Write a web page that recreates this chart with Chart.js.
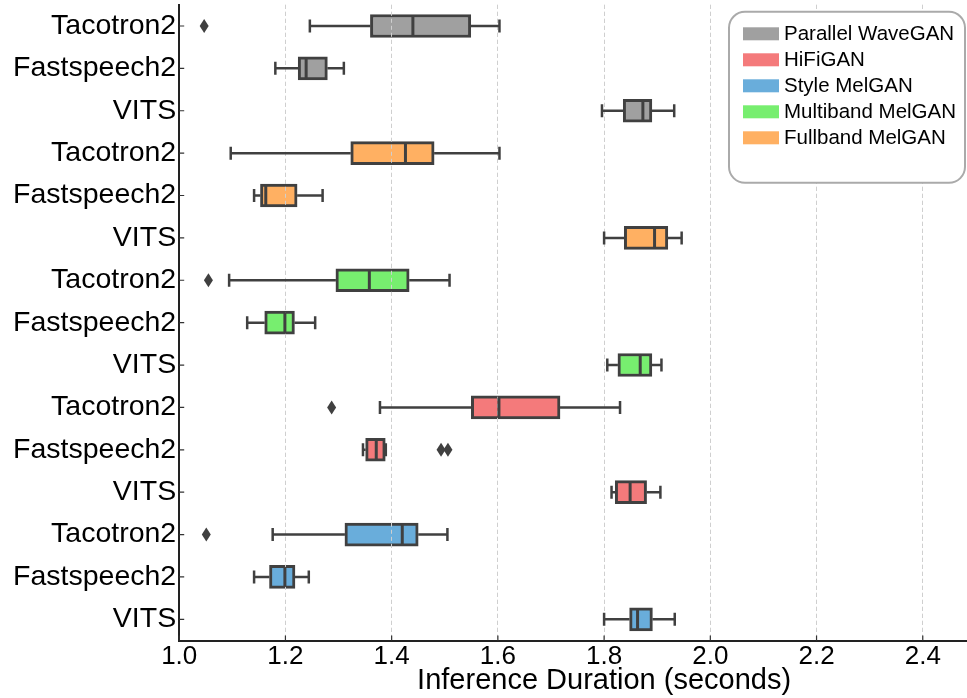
<!DOCTYPE html>
<html>
<head>
<meta charset="utf-8">
<title>Inference Duration</title>
<script src="https://cdn.jsdelivr.net/npm/chart.js@4.4.1/dist/chart.umd.min.js"></script>
<style>
  body { margin: 0; background: #fff; }
  #wrap { position: relative; width: 967px; height: 698px; overflow: hidden; }
  #holder { position: absolute; left: 0; top: -20px; width: 1060px; height: 718px; }
</style>
</head>
<body>
<div id="wrap"><div id="holder"><canvas id="durationChart"></canvas></div></div>
<script>
// vocoders, in legend order
const vocoders = ['Parallel WaveGAN', 'HiFiGAN', 'Style MelGAN', 'Multiband MelGAN', 'Fullband MelGAN'];
const vocoderColors = ['#a0a0a0', '#f47a7b', '#69addb', '#77ee6f', '#ffb062'];

// one row per acoustic model + vocoder, top to bottom
const rowLabels = [
  'Tacotron2', 'Fastspeech2', 'VITS',
  'Tacotron2', 'Fastspeech2', 'VITS',
  'Tacotron2', 'Fastspeech2', 'VITS',
  'Tacotron2', 'Fastspeech2', 'VITS',
  'Tacotron2', 'Fastspeech2', 'VITS'
];
const rowVocoder = [0, 0, 0, 4, 4, 4, 3, 3, 3, 1, 1, 1, 2, 2, 2];

// box plot stats, seconds
const whiskerLow  = [1.246, 1.181, 1.796, 1.097, 1.141, 1.800, 1.094, 1.128, 1.806, 1.378, 1.346, 1.814, 1.176, 1.141, 1.800];
const quartile1   = [1.360, 1.224, 1.836, 1.323, 1.153, 1.838, 1.295, 1.161, 1.826, 1.550, 1.351, 1.821, 1.312, 1.170, 1.848];
const medians     = [1.440, 1.239, 1.873, 1.426, 1.163, 1.895, 1.358, 1.199, 1.868, 1.602, 1.371, 1.849, 1.420, 1.199, 1.863];
const quartile3   = [1.549, 1.279, 1.890, 1.480, 1.222, 1.920, 1.433, 1.217, 1.890, 1.717, 1.388, 1.880, 1.450, 1.218, 1.891];
const whiskerHigh = [1.603, 1.310, 1.932, 1.603, 1.270, 1.946, 1.509, 1.256, 1.908, 1.830, 1.389, 1.906, 1.505, 1.244, 1.933];
const outliers = [[1.047], [], [], [], [], [], [1.055], [], [], [1.287], [1.493, 1.506], [], [1.051], [], []];

const xTicks = [1.0, 1.2, 1.4, 1.6, 1.8, 2.0, 2.2, 2.4];

const FONT = '"Liberation Sans", Arial, Helvetica, sans-serif';
const edgeColor = '#404040';
const gridColor = '#cfcfcf';
const gridDash = [4, 3];

// whiskers, caps, medians and outliers drawn on top of the IQR bars
const boxMarks = {
  id: 'boxMarks',
  afterDatasetsDraw(chart) {
    const { ctx, chartArea, scales: { x, y } } = chart;
    ctx.save();

    // grid sits above the box fill but under the lines
    ctx.strokeStyle = gridColor;
    ctx.lineWidth = 1;
    ctx.setLineDash(gridDash);
    xTicks.slice(1).forEach(v => {
      const px = Math.round(x.getPixelForValue(v) - 0.5) + 0.5;
      ctx.beginPath();
      ctx.moveTo(px, chartArea.top);
      ctx.lineTo(px, chartArea.bottom);
      ctx.stroke();
    });
    ctx.setLineDash([]);

    ctx.strokeStyle = edgeColor;
    ctx.fillStyle = edgeColor;
    rowLabels.forEach((_, i) => {
      const cy = y.getPixelForValue(i);
      const lo = x.getPixelForValue(whiskerLow[i]);
      const hi = x.getPixelForValue(whiskerHigh[i]);
      const q1 = x.getPixelForValue(quartile1[i]);
      const q3 = x.getPixelForValue(quartile3[i]);

      ctx.lineWidth = 2.5;
      ctx.beginPath();
      ctx.moveTo(lo, cy); ctx.lineTo(q1, cy);
      ctx.moveTo(q3, cy); ctx.lineTo(hi, cy);
      ctx.moveTo(lo, cy - 6.5); ctx.lineTo(lo, cy + 6.5);
      ctx.moveTo(hi, cy - 6.5); ctx.lineTo(hi, cy + 6.5);
      ctx.stroke();

      const md = x.getPixelForValue(medians[i]);
      ctx.lineWidth = 3;
      ctx.beginPath();
      ctx.moveTo(md, cy - 10); ctx.lineTo(md, cy + 10);
      ctx.stroke();

      outliers[i].forEach(v => {
        const px = x.getPixelForValue(v);
        ctx.beginPath();
        ctx.moveTo(px, cy - 7);
        ctx.lineTo(px + 4.5, cy);
        ctx.lineTo(px, cy + 7);
        ctx.lineTo(px - 4.5, cy);
        ctx.closePath();
        ctx.fill();
      });
    });
    ctx.restore();
  },
  afterDraw(chart) {
    const { ctx, chartArea, scales: { x, y } } = chart;
    ctx.save();

    // inward tick marks
    ctx.strokeStyle = '#333';
    ctx.lineWidth = 1.2;
    ctx.beginPath();
    xTicks.forEach(v => {
      const px = x.getPixelForValue(v);
      ctx.moveTo(px, chartArea.bottom);
      ctx.lineTo(px, chartArea.bottom - 5);
    });
    rowLabels.forEach((_, i) => {
      const py = y.getPixelForValue(i);
      ctx.moveTo(chartArea.left, py);
      ctx.lineTo(chartArea.left + 5, py);
    });
    ctx.stroke();

    // legend box
    const bx = chartArea.right - 300, by = chartArea.top + 7, bw = 236, bh = 171, r = 16;
    ctx.beginPath();
    ctx.moveTo(bx + r, by);
    ctx.arcTo(bx + bw, by, bx + bw, by + bh, r);
    ctx.arcTo(bx + bw, by + bh, bx, by + bh, r);
    ctx.arcTo(bx, by + bh, bx, by, r);
    ctx.arcTo(bx, by, bx + bw, by, r);
    ctx.closePath();
    ctx.fillStyle = '#fff';
    ctx.fill();
    ctx.strokeStyle = '#aaaaaa';
    ctx.lineWidth = 2;
    ctx.stroke();

    ctx.font = '20.5px ' + FONT;
    ctx.textBaseline = 'middle';
    vocoders.forEach((name, i) => {
      const cy = by + 22 + i * 26;
      ctx.fillStyle = vocoderColors[i];
      ctx.fillRect(bx + 14, cy - 6.5, 36, 13);
      ctx.fillStyle = '#000';
      ctx.fillText(name, bx + 55, cy + 1);
    });
    ctx.restore();
  }
};

new Chart(document.getElementById('durationChart'), {
  type: 'bar',
  data: {
    labels: rowLabels,
    datasets: [{
      label: 'IQR',
      data: quartile1.map((q, i) => [q, quartile3[i]]),
      backgroundColor: rowVocoder.map(v => vocoderColors[v]),
      borderColor: edgeColor,
      borderWidth: 3,
      borderSkipped: false,
      barThickness: 23
    }]
  },
  options: {
    indexAxis: 'y',
    responsive: true,
    maintainAspectRatio: false,
    animation: false,
    layout: { padding: { top: 24.8, right: 31, left: 0, bottom: 0 } },
    plugins: { legend: { display: false }, tooltip: { enabled: false } },
    scales: {
      x: {
        type: 'linear',
        min: 1.0,
        max: 2.6,
        afterBuildTicks: s => { s.ticks = xTicks.map(v => ({ value: v })); },
        afterFit: s => { s.height = 57.5; },
        grid: { color: gridColor, lineWidth: 1, drawTicks: false },
        border: { display: true, color: '#222', width: 2, dash: gridDash },
        ticks: {
          padding: 1,
          color: '#000',
          maxRotation: 0,
          font: { family: FONT, size: 26 },
          callback: v => v.toFixed(1)
        },
        title: {
          display: true,
          text: 'Inference Duration (seconds)',
          color: '#000',
          font: { family: FONT, size: 29 },
          padding: { top: 0, bottom: 0 }
        }
      },
      y: {
        type: 'category',
        offset: true,
        afterFit: s => { s.width = 179.2; },
        grid: { display: false, drawTicks: false },
        border: { display: true, color: '#222', width: 2 },
        ticks: {
          padding: 3,
          color: '#000',
          autoSkip: false,
          font: { family: FONT, size: 28.5 }
        }
      }
    }
  },
  plugins: [boxMarks]
});
</script>
</body>
</html>
